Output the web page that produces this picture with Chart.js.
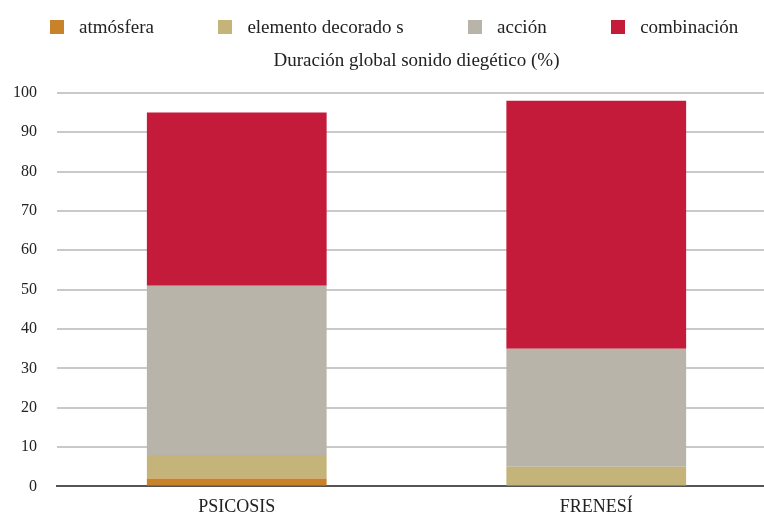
<!DOCTYPE html>
<html>
<head>
<meta charset="utf-8">
<script src="https://cdn.jsdelivr.net/npm/chart.js@4"></script>
<style>
  html, body { margin: 0; padding: 0; background: #fff; }
  #wrap { position: relative; width: 764px; height: 514px; overflow: hidden; }
  /* plot runs slightly past the right and bottom edges */
  #plot { position: absolute; left: 0; top: 0; width: 776px; height: 528px; }
  #legend {
    position: absolute; left: 49.5px; top: 16px; z-index: 1;
    display: flex; align-items: center; gap: 64px;
    font-family: "Liberation Serif", "DejaVu Serif", serif; font-size: 19px; color: #222;
    white-space: nowrap;
  }
  #legend .item { display: flex; align-items: center; }
  #legend .box { width: 14.5px; height: 14px; margin-right: 15px; margin-top: -1px; }
</style>
</head>
<body>
<div id="wrap">
  <div id="legend"></div>
  <div id="plot"><canvas id="soundChart"></canvas></div>
</div>
<script>
// Films on the x axis
var films = ['PSICOSIS', 'FRENESÍ'];

// Share of diegetic sound (%) per type, stacked
var atmosfera = [2, 0];
var elementoDecorado = [6, 5];
var accion = [43, 30];
var combinacion = [44, 63];

var yTicks = [0, 10, 20, 30, 40, 50, 60, 70, 80, 90, 100];

var serif = '"Liberation Serif", "DejaVu Serif", serif';

// Legend built as HTML from the chart's own legend items
var htmlLegend = {
    id: 'htmlLegend',
    afterUpdate: function (chart) {
        var box = document.getElementById('legend');
        box.innerHTML = '';
        var items = chart.options.plugins.legend.labels.generateLabels(chart);
        items.forEach(function (item) {
            var el = document.createElement('span');
            el.className = 'item';
            var swatch = document.createElement('span');
            swatch.className = 'box';
            swatch.style.background = item.fillStyle;
            var txt = document.createElement('span');
            txt.textContent = item.text;
            el.appendChild(swatch);
            el.appendChild(txt);
            box.appendChild(el);
        });
    }
};

// Keep the title centred over the plotting area instead of the canvas
var centreTitle = {
    id: 'centreTitle',
    afterLayout: function (chart) {
        if (chart.titleBlock) {
            chart.titleBlock.left = chart.chartArea.left;
            chart.titleBlock.right = chart.chartArea.right;
        }
    }
};

var ctx = document.getElementById('soundChart').getContext('2d');
var soundChart = new Chart(ctx, {
    type: 'bar',
    data: {
        labels: films,
        datasets: [
            { label: 'atmósfera', data: atmosfera, backgroundColor: '#c8822a' },
            { label: 'elemento decorado s', data: elementoDecorado, backgroundColor: '#c4b47a' },
            { label: 'acción', data: accion, backgroundColor: '#b8b4a9' },
            { label: 'combinación', data: combinacion, backgroundColor: '#c41b3a' }
        ]
    },
    plugins: [htmlLegend, centreTitle],
    options: {
        responsive: true,
        maintainAspectRatio: false,
        animation: false,
        layout: { padding: { left: -7, right: 0, top: 40, bottom: 0 } },
        datasets: {
            bar: { barPercentage: 0.5, categoryPercentage: 1 }
        },
        scales: {
            x: {
                stacked: true,
                grid: { display: false, drawTicks: false },
                border: { display: true, color: '#555', width: 2 },
                ticks: { color: '#222', padding: 10, font: { family: serif, size: 18 } }
            },
            y: {
                stacked: true,
                min: 0,
                max: 100,
                afterBuildTicks: function (axis) {
                    axis.ticks = yTicks.map(function (v) { return { value: v }; });
                },
                grid: { color: '#c9c9c9', lineWidth: 2, drawTicks: false },
                border: { display: false },
                ticks: { color: '#222', padding: 20, font: { family: serif, size: 16 } }
            }
        },
        plugins: {
            legend: { display: false },
            title: {
                display: true,
                text: 'Duración global sonido diegético (%)',
                color: '#222',
                padding: { top: 10, bottom: 20 },
                font: { family: serif, size: 19, weight: 'normal' }
            },
            tooltip: { enabled: false }
        }
    }
});
</script>
</body>
</html>
